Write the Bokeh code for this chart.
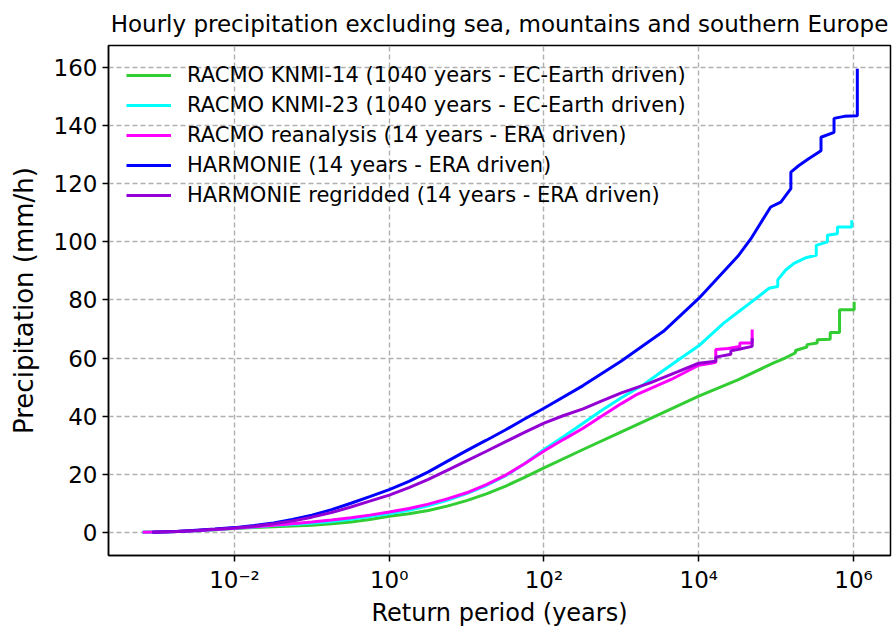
from bokeh.plotting import figure
from bokeh.models import Range1d, FixedTicker, Legend, LegendItem, CustomJSTickFormatter
from bokeh.embed import file_html
from bokeh.resources import INLINE

# Return periods (years) and hourly precipitation (mm/h) per data set
knmi14_T = [6.5e-4, 1.8e-3, 3.2e-3, 5.6e-3, 0.01, 0.018, 0.032, 0.056, 0.1, 0.18, 0.32, 0.56,
            1, 1.8, 3.2, 5.6, 10, 18, 32, 56, 100, 320, 1000, 3200, 1e4, 3.2e4, 9.3e4,
            1.26e5, 1.78e5, 1.78e5, 2.5e5, 2.5e5, 3.4e5, 3.4e5, 5.0e5, 5.0e5, 6.6e5, 6.6e5,
            1.02e6, 1.02e6]
knmi14_P = [0, 0.25, 0.55, 0.9, 1.3, 1.6, 1.9, 2.15, 2.45, 2.9, 3.5, 4.4,
            5.5, 6.4, 7.5, 9.0, 10.9, 13.2, 15.9, 18.9, 22.2, 28.5, 34.6, 40.8, 46.9, 52.5, 58.3,
            59.8, 61.8, 62.6, 63.8, 64.6, 65.2, 66.3, 66.5, 68.8, 68.8, 76.6,
            76.6, 79.4]

knmi23_T = [6.5e-4, 1.8e-3, 3.2e-3, 5.6e-3, 0.01, 0.018, 0.032, 0.056, 0.1, 0.18, 0.32, 0.56,
            1, 1.8, 3.2, 5.6, 10, 18, 32, 56, 100, 180, 320, 560, 1000, 1950, 3200, 5600,
            1e4, 2.1e4, 3.3e4, 5.2e4, 8.1e4, 1.05e5, 1.05e5, 1.33e5, 1.7e5, 2.4e5,
            3.3e5, 3.3e5, 4.6e5, 4.6e5, 6.2e5, 6.2e5, 9.5e5, 9.5e5]
knmi23_P = [0, 0.25, 0.55, 0.95, 1.4, 1.85, 2.3, 2.7, 3.1, 3.7, 4.5, 5.4,
            6.4, 7.6, 9.1, 11.0, 13.3, 16.1, 19.5, 23.6, 28.5, 33.0, 37.5, 42.0, 46.3, 50.9, 55.0, 59.6,
            64.2, 72.0, 76.0, 80.0, 84.0, 84.6, 86.9, 90.3, 92.6, 94.5,
            95.4, 98.8, 100.0, 102.3, 102.8, 105.1, 105.1, 107.4]

rean_T = [6.5e-4, 1.8e-3, 3.2e-3, 5.6e-3, 0.01, 0.018, 0.032, 0.056, 0.1, 0.18, 0.32, 0.56,
          1, 1.8, 3.2, 5.6, 10, 18, 32, 56, 100, 180, 320, 560, 1000,
          1600, 4400, 1e4, 1.5e4, 1.66e4, 1.66e4, 2.4e4, 3.4e4, 3.4e4, 4.9e4, 4.9e4]
rean_P = [0, 0.25, 0.55, 0.95, 1.4, 1.9, 2.4, 2.95, 3.5, 4.2, 5.0, 5.9,
          7.0, 8.2, 9.7, 11.5, 13.6, 16.4, 19.7, 23.6, 28.0, 32.0, 35.8, 40.0, 44.3,
          47.5, 52.6, 57.5, 58.3, 58.5, 62.9, 63.3, 64.0, 65.2, 65.2, 69.8]

harm_T = [8.7e-4, 1.8e-3, 3.2e-3, 5.6e-3, 0.01, 0.018, 0.032, 0.056, 0.1, 0.18, 0.32, 0.56,
          1, 1.8, 3.2, 5.6, 10, 18, 32, 56, 100, 320, 1000,
          3500, 1e4, 3.2e4, 4.7e4, 8.5e4, 1.15e5, 1.55e5, 1.55e5, 1.95e5, 2.6e5,
          3.8e5, 3.8e5, 5.6e5, 5.6e5, 7.6e5, 1.12e6, 1.12e6]
harm_P = [0, 0.3, 0.7, 1.1, 1.6, 2.3, 3.2, 4.4, 5.9, 7.8, 10.0, 12.3,
          14.7, 17.5, 20.8, 24.4, 28.1, 31.7, 35.3, 39.0, 42.7, 50.5, 59.0,
          69.2, 80.5, 95.0, 101.0, 112.0, 113.7, 118.3, 124.0, 126.2, 128.5,
          131.4, 136.0, 137.7, 142.5, 143.2, 143.4, 159.6]

regrid_T = [8.7e-4, 1.8e-3, 3.2e-3, 5.6e-3, 0.01, 0.018, 0.032, 0.056, 0.1, 0.18, 0.32, 0.56,
            1, 1.8, 3.2, 5.6, 10, 18, 32, 56, 100, 180, 320, 560,
            1000, 2400, 5000, 1e4, 1.66e4, 1.66e4, 2.6e4, 2.6e4, 3.3e4, 4.9e4, 4.9e4]
regrid_P = [0, 0.3, 0.65, 1.05, 1.5, 2.1, 2.9, 3.9, 5.2, 6.8, 8.7, 10.7,
            12.8, 15.4, 18.2, 21.3, 24.6, 27.9, 31.2, 34.4, 37.6, 40.2, 42.5, 45.2,
            48.0, 51.5, 55.0, 58.2, 58.9, 60.3, 61.3, 62.5, 63.0, 64.0, 66.9]

labels = [
    "RACMO KNMI-14 (1040 years - EC-Earth driven)",
    "RACMO KNMI-23 (1040 years - EC-Earth driven)",
    "RACMO reanalysis (14 years - ERA driven)",
    "HARMONIE (14 years - ERA driven)",
    "HARMONIE regridded (14 years - ERA driven)",
]
colors = ["#32cd32", "#00ffff", "#ff00ff", "#0000ff", "#9400d3"]
series = [(knmi14_T, knmi14_P), (knmi23_T, knmi23_P), (rean_T, rean_P),
          (harm_T, harm_P), (regrid_T, regrid_P)]

x_ticks = [1e-2, 1, 1e2, 1e4, 1e6]
y_ticks = [0, 20, 40, 60, 80, 100, 120, 140, 160]

FONT = "DejaVu Sans"

p = figure(width=893, height=631, x_axis_type="log",
           x_range=Range1d(10 ** -3.628, 10 ** 6.478), y_range=Range1d(-8, 167.6),
           output_backend="svg", toolbar_location=None,
           min_border_left=108, min_border_right=3, min_border_top=44, min_border_bottom=76)

p.title.text = "Hourly precipitation excluding sea, mountains and southern Europe"
p.title.align = "center"
p.title.text_font = FONT
p.title.text_font_style = "normal"
p.title.text_font_size = "23px"
p.title.text_color = "black"
p.title.standoff = 17

p.outline_line_color = "black"
p.outline_line_width = 1.5
p.outline_line_alpha = 1.0

p.xaxis.ticker = FixedTicker(ticks=x_ticks, minor_ticks=[])
p.yaxis.ticker = FixedTicker(ticks=y_ticks, minor_ticks=[])
p.xaxis.formatter = CustomJSTickFormatter(code="""
    const sup = {"-": "\u207b", "0": "\u2070", "1": "\u00b9", "2": "\u00b2", "3": "\u00b3",
                 "4": "\u2074", "5": "\u2075", "6": "\u2076", "7": "\u2077", "8": "\u2078", "9": "\u2079"};
    const e = Math.round(Math.log10(tick));
    return "10" + String(e).split("").map(c => sup[c]).join("");
""")

p.xaxis.axis_label = "Return period (years)"
p.yaxis.axis_label = "Precipitation (mm/h)"
for ax in (p.xaxis, p.yaxis):
    ax.axis_label_text_font = FONT
    ax.axis_label_text_font_style = "normal"
    ax.axis_label_text_color = "black"
    ax.major_label_text_font = FONT
    ax.major_label_text_color = "black"
    ax.major_label_text_font_size = "23px"
    ax.axis_line_color = "black"
    ax.axis_line_width = 1.5
    ax.major_tick_line_color = "black"
    ax.major_tick_line_width = 1.5
    ax.major_tick_out = 6
    ax.major_tick_in = 0
    ax.minor_tick_out = 0
    ax.minor_tick_in = 0
    ax.major_label_standoff = 5
p.xaxis.axis_label_text_font_size = "24px"
p.yaxis.axis_label_text_font_size = "26px"
p.xaxis.axis_label_standoff = 3
p.yaxis.axis_label_standoff = 12

for g in (p.xgrid, p.ygrid):
    g.grid_line_color = "#b0b0b0"
    g.grid_line_width = 1.4
    g.grid_line_dash = "5 3"

items = []
for (T, P), c, lab in zip(series, colors, labels):
    r = p.line(T, P, line_color=c, line_width=3)
    items.append(LegendItem(label=lab, renderers=[r]))

legend = Legend(items=items, location="top_left")
legend.background_fill_alpha = 0
legend.border_line_alpha = 0
legend.label_text_font = FONT
legend.label_text_font_size = "21px"
legend.label_text_color = "black"
legend.glyph_width = 45
legend.glyph_height = 24
legend.label_height = 24
legend.label_standoff = 16
legend.spacing = 6
legend.padding = 9
legend.margin = 9
p.add_layout(legend)

open("out.html", "w").write(file_html(p, INLINE))
